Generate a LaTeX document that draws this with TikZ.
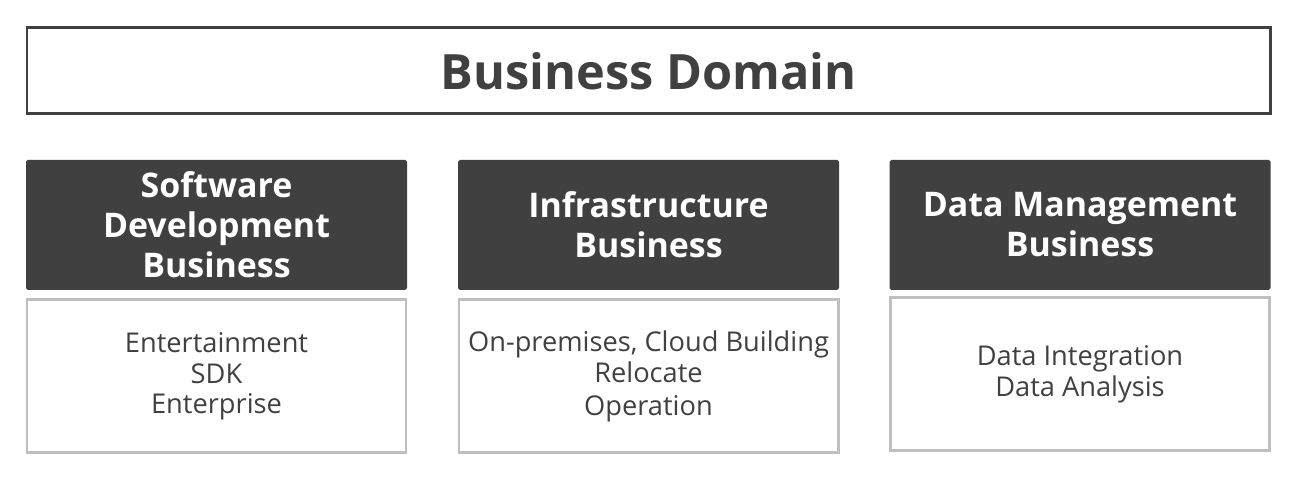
\documentclass[tikz,border=0pt]{standalone}
\usepackage{fontspec}
\setmainfont{Open Sans}
\definecolor{darkgray}{HTML}{404040}
\definecolor{lightgray}{HTML}{BFBFBF}
\begin{document}
\begin{tikzpicture}
  [every node/.style={align=center,inner sep=0pt,text=darkgray},
   titlebox/.style={draw=darkgray,line width=1.7pt,minimum width=24.86cm,minimum height=1.72cm,font=\bfseries\fontsize{27.7}{32}\selectfont},
   headbox/.style={fill=darkgray,rounded corners=1pt,minimum width=7.62cm,minimum height=2.6cm,text=white,font=\bfseries\fontsize{19.3}{22.8}\selectfont},
   itembox/.style={draw=lightgray,line width=1.7pt,minimum width=7.58cm,minimum height=3.06cm,font=\fontsize{15.5}{17.5}\selectfont}]
  \useasboundingbox (0,0) rectangle (26,9.68);
  \node[titlebox] (t) at (12.97,8.26) {Business Domain};

  \node[headbox] (h1) at (4.33,5.18) {Software\\Development\\Business};
  \node[headbox] (h2) at (12.97,5.18) {Infrastructure\\Business};
  \node[headbox] (h3) at (21.6,5.18) {Data Management\\Business};

  \node[itembox] (b1) at (4.33,2.15) {Entertainment\\SDK\\Enterprise};
  \node[itembox] (b2) at (12.97,2.15) {On-premises, Cloud Building\\Relocate\\[1pt]Operation};
  \node[itembox] (b3) at (21.6,2.2) {Data Integration\\Data Analysis};

\end{tikzpicture}
\end{document}
